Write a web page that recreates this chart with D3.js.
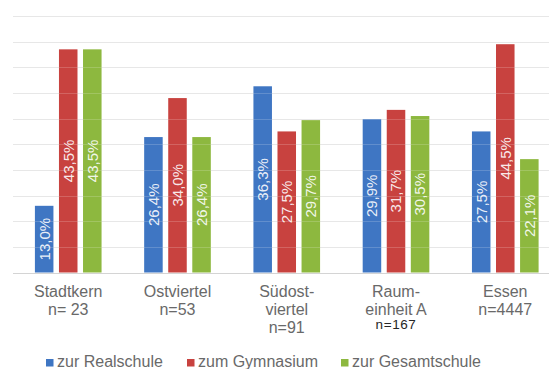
<!DOCTYPE html>
<html>
<head>
<meta charset="utf-8">
<script src="https://cdn.jsdelivr.net/npm/d3@7"></script>
<style>
  html, body { margin: 0; padding: 0; background: #fff; }
  svg { display: block; font-family: "Liberation Sans", Arial, sans-serif; }
</style>
</head>
<body>
<svg id="chart" width="549" height="369"></svg>
<script>
// Übergänge nach Schulform, je Stadtgebiet (Anteile in %)
const areas = ["Stadtkern", "Ostviertel", "Südostviertel", "Raumeinheit A", "Essen"];
const areaLabels = [
  ["Stadtkern", "n= 23"],
  ["Ostviertel", "n=53"],
  ["Südost-", "viertel", "n=91"],
  ["Raum-", "einheit A", "n=167"],
  ["Essen", "n=4447"]
];
const seriesNames = ["zur Realschule", "zum Gymnasium", "zur Gesamtschule"];
const realschule   = [13.0, 26.4, 36.3, 29.9, 27.5];
const gymnasium    = [43.5, 34.0, 27.5, 31.7, 44.5];
const gesamtschule = [43.5, 26.4, 29.7, 30.5, 22.1];
const yTicks = [0, 5, 10, 15, 20, 25, 30, 35, 40, 45, 50];

const seriesValues = [realschule, gymnasium, gesamtschule];
const colors = ["#3f76c3", "#c8423f", "#8db83f"];

const svg = d3.select("#chart");

const x0 = d3.scaleBand().domain(areas).range([13.6, 559.9])
  .paddingInner(0.39).paddingOuter(0.195);
const x1 = d3.scaleBand().domain(seriesNames).range([0, x0.bandwidth()])
  .paddingInner(0.23).paddingOuter(0);
const y = d3.scaleLinear().domain([0, 50]).range([272.5, 16]);
const color = d3.scaleOrdinal().domain(seriesNames).range(colors);

// horizontal grid
const grid = svg.append("g");
grid.selectAll("line").data(yTicks.slice(1)).join("line")
  .attr("x1", 13).attr("x2", 549)
  .attr("y1", d => Math.round(y(d)) + 0.5).attr("y2", d => Math.round(y(d)) + 0.5)
  .attr("stroke", "#e2e2e2").attr("stroke-width", 1);

const rows = areas.map((a, i) => ({
  area: a,
  values: seriesNames.map((s, j) => ({ series: s, value: seriesValues[j][i] }))
}));

const groups = svg.append("g").selectAll("g").data(rows).join("g")
  .attr("transform", d => `translate(${x0(d.area)},0)`);

groups.selectAll("rect").data(d => d.values).join("rect")
  .attr("x", d => x1(d.series))
  .attr("y", d => y(d.value))
  .attr("width", x1.bandwidth())
  .attr("height", d => y(0) - y(d.value))
  .attr("fill", d => color(d.series));

// faint grid lines showing through the bars
svg.append("g").selectAll("line").data(yTicks.slice(1)).join("line")
  .attr("x1", 13).attr("x2", 549)
  .attr("y1", d => Math.round(y(d)) + 0.5).attr("y2", d => Math.round(y(d)) + 0.5)
  .attr("stroke", "#ffffff").attr("stroke-opacity", 0.18).attr("stroke-width", 1);

// value labels, rotated inside the bars
groups.selectAll("text.val").data(d => d.values).join("text")
  .attr("class", "val")
  .attr("transform", d => {
    const cx = x1(d.series) + x1.bandwidth() / 2;
    const cy = (y(d.value) + y(0)) / 2;
    return `translate(${cx},${cy}) rotate(-90)`;
  })
  .attr("text-anchor", "middle")
  .attr("dy", "0.36em")
  .attr("fill", "#ffffff")
  .attr("fill-opacity", 0.9)
  .style("font-size", "15px")
  .text(d => d3.format(".1f")(d.value).replace(".", ",") + "%");

// baseline
svg.append("line")
  .attr("x1", 13).attr("x2", 549)
  .attr("y1", Math.round(y(0)) + 0.5).attr("y2", Math.round(y(0)) + 0.5)
  .attr("stroke", "#d4d4d4").attr("stroke-width", 1);

// category labels
const cat = svg.append("g").selectAll("text").data(areas).join("text")
  .attr("x", d => x0(d) + x0.bandwidth() / 2)
  .attr("y", 296.5)
  .attr("text-anchor", "middle")
  .attr("fill", "#696969")
  .style("font-size", "16px");
cat.each(function (d, i) {
  const lines = areaLabels[i];
  const t = d3.select(this);
  lines.forEach((ln, k) => {
    const special = (i === 3 && k === 2);
    t.append("tspan")
      .attr("x", x0(d) + x0.bandwidth() / 2)
      .attr("dy", k === 0 ? 0 : (special ? 14 : 18.2))
      .attr("fill", special ? "#262626" : null)
      .style("font-size", special ? "13.5px" : null)
      .style("letter-spacing", special ? "0.6px" : null)
      .text(ln);
  });
});

// legend
const legendX = [46, 187, 341];
const legend = svg.append("g").selectAll("g").data(seriesNames).join("g")
  .attr("transform", (d, i) => `translate(${legendX[i]},359)`);
legend.append("rect").attr("width", 7.5).attr("height", 7.5).attr("fill", d => color(d));
legend.append("text")
  .attr("x", 11).attr("y", 8.3)
  .attr("fill", "#696969")
  .style("font-size", "16px")
  .text(d => d);
</script>
</body>
</html>
